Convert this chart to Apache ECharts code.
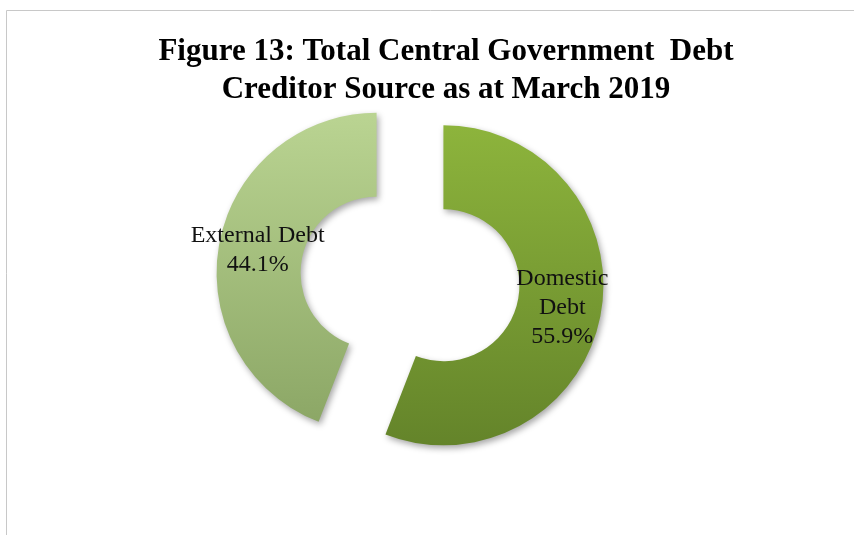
<!DOCTYPE html>
<html>
<head>
<meta charset="utf-8">
<script src="https://cdn.jsdelivr.net/npm/echarts@6/dist/echarts.min.js"></script>
<style>
html,body{margin:0;padding:0;background:#fff;}
#chart{width:854px;height:535px;}
</style>
</head>
<body>
<div id="chart"></div>
<script>
var categories = ['Domestic\nDebt', 'External Debt'];
var shares = [55.9, 44.1];
var titleLines = ['Figure 13: Total Central Government  Debt', 'Creditor Source as at March 2019'];

var gradients = [
  ['#8db43c', '#64842a'],
  ['#bad492', '#8ca766']
];

function grad(c) {
  return new echarts.graphic.LinearGradient(0, 0, 0, 1, [
    {offset: 0, color: c[0]}, {offset: 1, color: c[1]}
  ]);
}

var data = categories.map(function (name, i) {
  var style = {
    color: grad(gradients[i]),
    shadowBlur: 6,
    shadowOffsetX: 2,
    shadowOffsetY: 3,
    shadowColor: 'rgba(0,0,0,0.35)',
    borderWidth: 0
  };
  return {
    name: name,
    value: shares[i],
    selected: true,
    itemStyle: style,
    select: {itemStyle: style},
    emphasis: {itemStyle: style}
  };
});
data[1].label = {offset: [0, 4]};

var chart = echarts.init(document.getElementById('chart'));
chart.setOption({
  animation: false,
  backgroundColor: '#ffffff',
  title: {
    text: titleLines.join('\n'),
    left: 441,
    top: 28,
    textAlign: 'center',
    textStyle: {
      fontFamily: 'Liberation Serif',
      fontWeight: 'bold',
      fontSize: 31,
      lineHeight: 38,
      color: '#000000'
    }
  },
  graphic: [{
    type: 'rect',
    shape: {x: 6.5, y: 10.5, width: 1000, height: 700},
    style: {fill: 'none', stroke: '#c8c8c8', lineWidth: 1},
    silent: true
  }],
  series: [{
    type: 'pie',
    center: [410, 279],
    radius: [76, 160],
    startAngle: 90,
    clockwise: true,
    selectedMode: 'multiple',
    selectedOffset: 34,
    avoidLabelOverlap: false,
    label: {
      show: true,
      position: 'inside',
      formatter: function (p) { return p.name + '\n' + p.value.toFixed(1) + '%'; },
      fontFamily: 'Liberation Serif',
      fontSize: 24,
      lineHeight: 29,
      color: '#111111',
      align: 'center'
    },
    labelLine: {show: false},
    emphasis: {disabled: true},
    data: data
  }]
});
</script>
</body>
</html>
